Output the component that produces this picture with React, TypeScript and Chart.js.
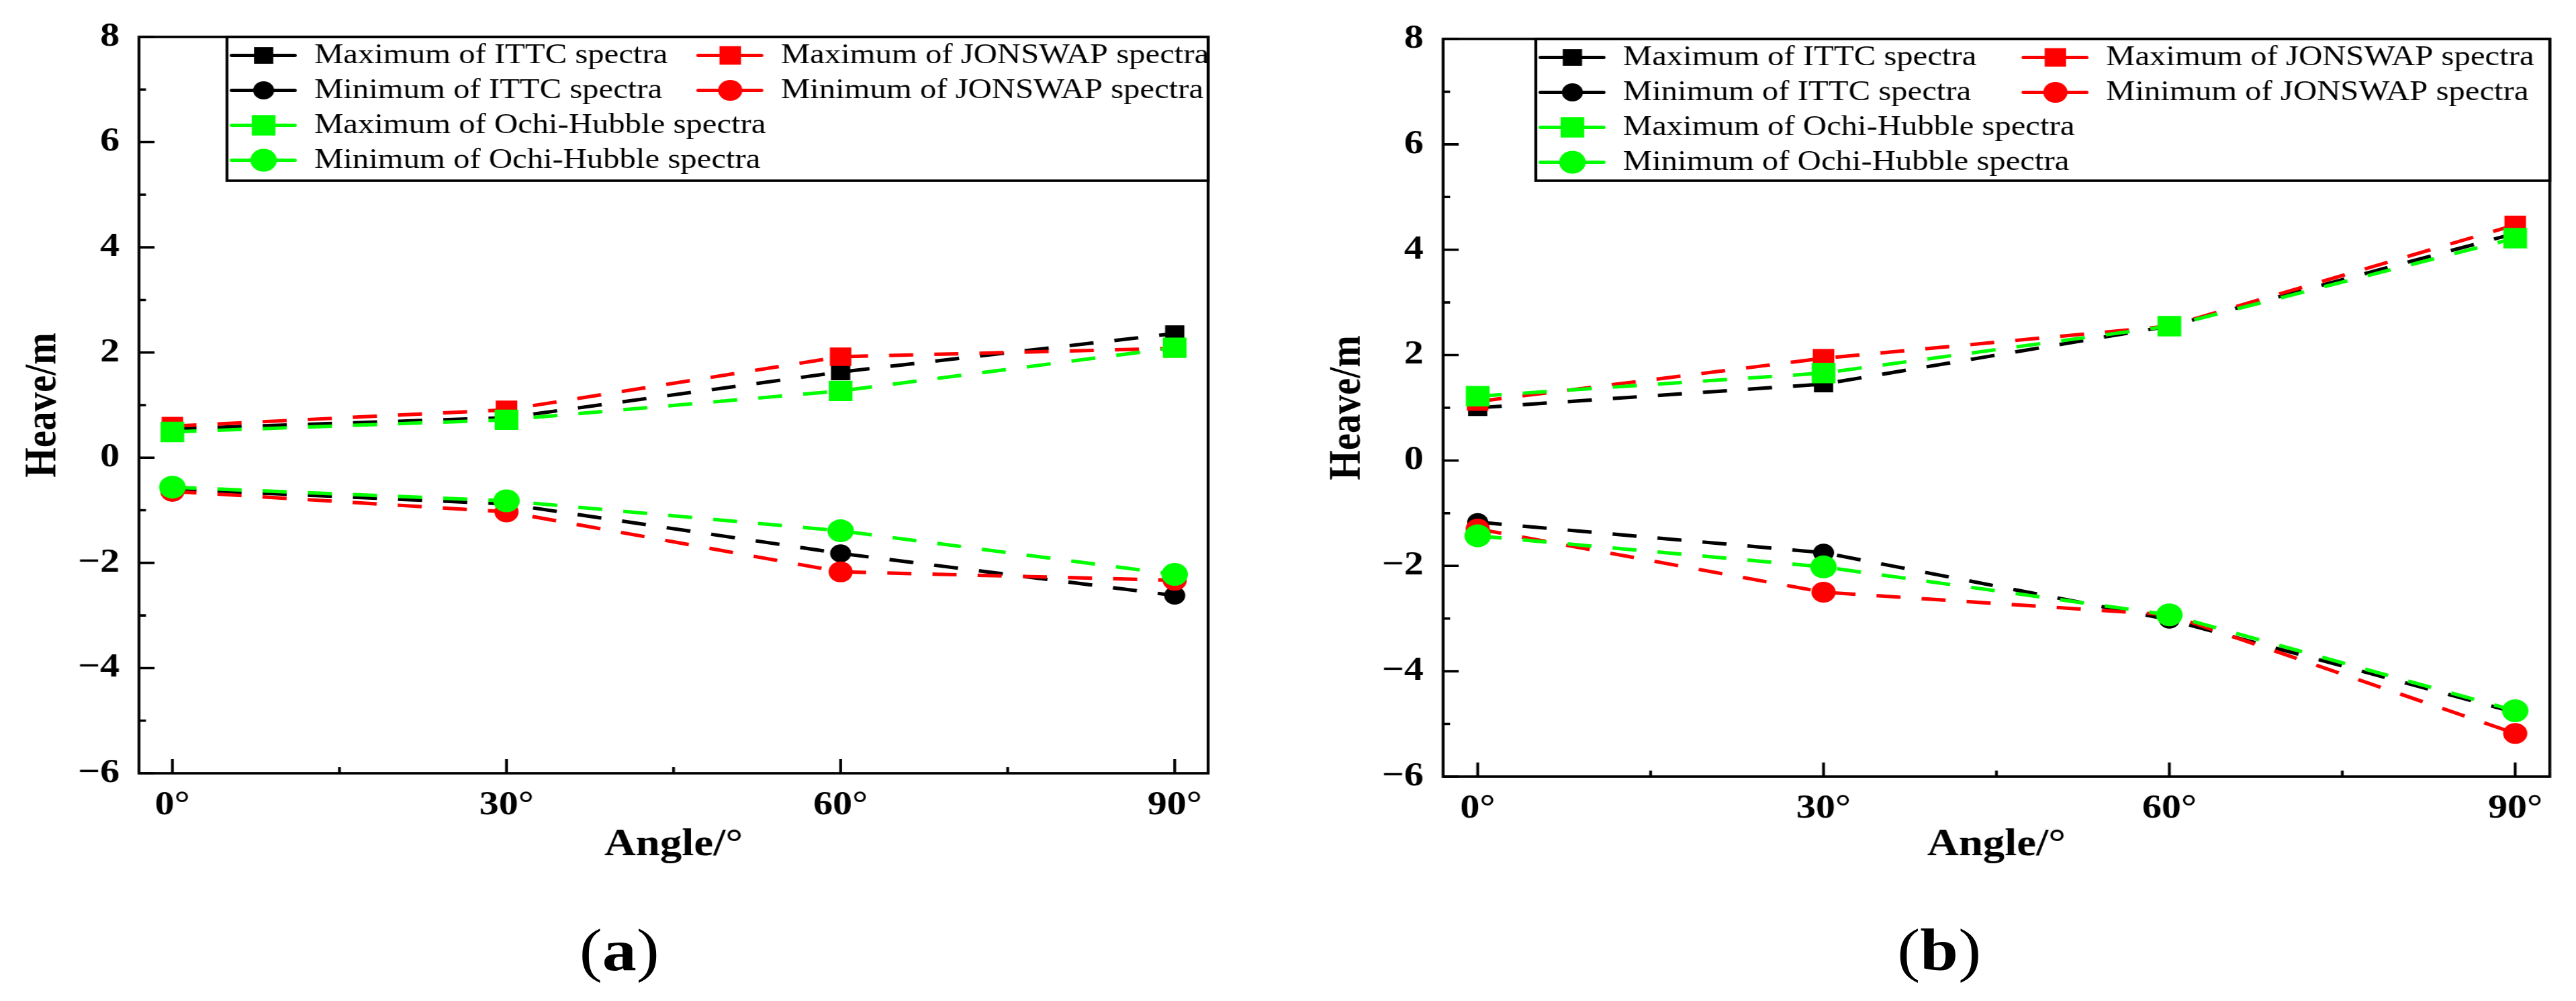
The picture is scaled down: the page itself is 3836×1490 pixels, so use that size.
import { useEffect, useRef } from "react"
import { Chart, registerables } from "chart.js"

Chart.register(...registerables)

// the published figure is stretched sideways, so each panel is drawn narrower and scaled in x
const STRETCH = 1.16
const FONT = "'Liberation Serif', 'Times New Roman', serif"
const CANVAS_W = 1653
const CANVAS_H = 1320
const Y_AXIS_W = 178

const angles = [0, 30, 60, 90]
const xTickValues = [0, 15, 30, 45, 60, 75, 90]
const xLabelValues = [0, 30, 60, 90]
const yTickValues = [-6, -5, -4, -3, -2, -1, 0, 1, 2, 3, 4, 5, 6, 7, 8]
const yLabelValues = [-6, -4, -2, 0, 2, 4, 6, 8]

const seriesNames = [
  "Maximum of ITTC spectra",
  "Minimum of ITTC spectra",
  "Maximum of Ochi-Hubble spectra",
  "Minimum of Ochi-Hubble spectra",
  "Maximum of JONSWAP spectra",
  "Minimum of JONSWAP spectra",
]

// (a)
const maxIttcA = [0.55, 0.76, 1.63, 2.36]
const minIttcA = [-0.6, -0.88, -1.82, -2.62]
const maxOchiA = [0.49, 0.72, 1.27, 2.09]
const minOchiA = [-0.56, -0.82, -1.39, -2.22]
const maxJonswapA = [0.6, 0.91, 1.92, 2.08]
const minJonswapA = [-0.64, -1.03, -2.17, -2.33]

// (b)
const maxIttcB = [1.0, 1.45, 2.55, 4.31]
const minIttcB = [-1.17, -1.75, -3.02, -4.78]
const maxOchiB = [1.22, 1.66, 2.55, 4.22]
const minOchiB = [-1.43, -2.02, -2.93, -4.75]
const maxJonswapB = [1.12, 1.94, 2.55, 4.47]
const minJonswapB = [-1.3, -2.5, -2.93, -5.18]

const seriesStyles = [
  { color: "#000000", point: "rect", radius: 17.5, order: 2 },
  { color: "#000000", point: "circle", radius: 13.5, order: 2 },
  { color: "#00ff00", point: "rect", radius: 21.5, order: 0 },
  { color: "#00ff00", point: "circle", radius: 17, order: 0 },
  { color: "#ff0000", point: "rect", radius: 19.5, order: 1 },
  { color: "#ff0000", point: "circle", radius: 15.5, order: 1 },
]

type PanelSpec = {
  letter: string
  pageX: number
  plotLeft: number
  plotRight: number
  plotTop: number
  plotBottom: number
  legendLeft: number
  legendHeight: number
  legendCol2: number
  captionX: number
  series: number[][]
}

const panels: PanelSpec[] = [
  {
    letter: "a",
    pageX: 0,
    plotLeft: 178.4,
    plotRight: 1550.9,
    plotTop: 41,
    plotBottom: 1151,
    legendLeft: 291.4,
    legendHeight: 214,
    legendCol2: 599,
    captionX: 795,
    series: [maxIttcA, minIttcA, maxOchiA, minOchiA, maxJonswapA, minJonswapA],
  },
  {
    letter: "b",
    pageX: 1918,
    plotLeft: 199.1,
    plotRight: 1619.8,
    plotTop: 58,
    plotBottom: 1156,
    legendLeft: 318.1,
    legendHeight: 211,
    legendCol2: 620,
    captionX: 836,
    series: [maxIttcB, minIttcB, maxOchiB, minOchiB, maxJonswapB, minJonswapB],
  },
]

// inward ticks, closed frame and the boxed two-column legend
const framePlugin = {
  id: "heaveFrame",
  afterDatasetsDraw(chart: any, _args: unknown, opts: any) {
    const { ctx, chartArea: area } = chart
    const xs = chart.scales.x
    const ys = chart.scales.y
    ctx.save()
    ctx.strokeStyle = "#000"
    ctx.lineWidth = 3.6
    ctx.lineCap = "butt"
    ctx.beginPath()
    xs.ticks.forEach((t: any) => {
      const px = xs.getPixelForValue(t.value)
      const len = xLabelValues.includes(t.value) ? 21 : 9
      ctx.moveTo(px, area.bottom)
      ctx.lineTo(px, area.bottom - len)
    })
    ys.ticks.forEach((t: any) => {
      const py = ys.getPixelForValue(t.value)
      const len = yLabelValues.includes(t.value) ? 20 : 9
      ctx.moveTo(area.left, py)
      ctx.lineTo(area.left + len, py)
    })
    ctx.stroke()
    ctx.lineWidth = 3.7
    ctx.strokeRect(area.left, area.top, area.right - area.left, area.bottom - area.top)

    const boxLeft = opts.left
    const boxTop = area.top
    ctx.strokeRect(boxLeft, boxTop, area.right - boxLeft, opts.height)
    ctx.font = `42px ${FONT}`
    ctx.textBaseline = "middle"
    ctx.textAlign = "left"
    chart.data.datasets.forEach((ds: any, i: number) => {
      const col = Math.floor(i / 4)
      const row = i % 4
      const ox = boxLeft + col * opts.col2
      const oy = boxTop + 27.5 + row * 52
      ctx.strokeStyle = ds.borderColor
      ctx.lineWidth = 5
      ctx.lineCap = "round"
      ctx.beginPath()
      ctx.moveTo(ox + 6, oy)
      ctx.lineTo(ox + 87, oy)
      ctx.stroke()
      ctx.fillStyle = ds.pointBackgroundColor
      const r = ds.pointRadius
      if (ds.pointStyle === "rect") {
        const h = r * Math.SQRT1_2
        ctx.fillRect(ox + 47 - h, oy - h, 2 * h, 2 * h)
      } else {
        ctx.beginPath()
        ctx.arc(ox + 47, oy, r, 0, Math.PI * 2)
        ctx.fill()
      }
      ctx.fillStyle = "#000"
      ctx.fillText(ds.label, ox + 112, oy)
    })
    ctx.restore()
  },
}

function HeavePanel({ spec }: { spec: PanelSpec }) {
  const chartRef = useRef<HTMLCanvasElement>(null)
  const chartInstance = useRef<Chart | null>(null)

  useEffect(() => {
    if (!chartRef.current) return
    const ctx = chartRef.current.getContext("2d")
    if (!ctx) return

    if (chartInstance.current) {
      chartInstance.current.destroy()
    }

    const datasets = spec.series.map((values, i) => {
      const s = seriesStyles[i]
      return {
        label: seriesNames[i],
        data: values.map((v, j) => ({ x: angles[j], y: v })),
        borderColor: s.color,
        backgroundColor: s.color,
        pointBackgroundColor: s.color,
        pointBorderWidth: 0,
        pointStyle: s.point,
        pointRadius: s.radius,
        borderWidth: 5.2,
        borderDash: [31, 27],
        tension: 0,
        fill: false,
        order: s.order,
      }
    })

    chartInstance.current = new Chart(ctx, {
      type: "line",
      data: { datasets } as any,
      options: {
        responsive: false,
        animation: false,
        devicePixelRatio: 1,
        layout: {
          padding: {
            left: spec.plotLeft - Y_AXIS_W,
            right: CANVAS_W - spec.plotRight,
            top: spec.plotTop,
            bottom: 0,
          },
        },
        plugins: {
          legend: { display: false },
          tooltip: { enabled: false },
          heaveFrame: { left: spec.legendLeft, height: spec.legendHeight, col2: spec.legendCol2 },
        } as any,
        scales: {
          x: {
            type: "linear",
            min: -3,
            max: 93,
            grid: { display: false, drawTicks: false },
            border: { display: false },
            afterBuildTicks: (scale: any) => {
              scale.ticks = xTickValues.map((value) => ({ value }))
            },
            afterFit: (scale: any) => {
              scale.height = CANVAS_H - spec.plotBottom
            },
            ticks: {
              autoSkip: false,
              maxRotation: 0,
              padding: 18,
              color: "#000",
              font: { family: FONT, size: 50, weight: "bold" },
              callback: (value: any) => (xLabelValues.includes(Number(value)) ? `${value}°` : ""),
            },
            title: {
              display: true,
              text: "Angle/°",
              color: "#000",
              font: { family: FONT, size: 56, weight: "bold" },
              padding: { top: 0, bottom: 28 },
            },
          },
          y: {
            type: "linear",
            min: -6,
            max: 8,
            grid: { display: false, drawTicks: false },
            border: { display: false },
            afterBuildTicks: (scale: any) => {
              scale.ticks = yTickValues.map((value) => ({ value }))
            },
            afterFit: (scale: any) => {
              scale.width = Y_AXIS_W
            },
            ticks: {
              autoSkip: false,
              padding: 25,
              color: "#000",
              font: { family: FONT, size: 50, weight: "bold" },
              callback: (value: any) => {
                const v = Number(value)
                if (!yLabelValues.includes(v)) return ""
                return v < 0 ? `\u2212${Math.abs(v)}` : String(v)
              },
            },
            title: {
              display: true,
              text: "Heave/m",
              color: "#000",
              font: { family: FONT, size: 57, weight: "bold" },
              padding: { top: 22, bottom: 0 },
            },
          },
        },
      },
      plugins: [framePlugin],
    })

    return () => {
      if (chartInstance.current) {
        chartInstance.current.destroy()
        chartInstance.current = null
      }
    }
  }, [spec])

  return (
    <div
      style={{
        position: "absolute",
        left: spec.pageX,
        top: 0,
        width: CANVAS_W,
        height: 1490,
        transform: `scaleX(${STRETCH})`,
        transformOrigin: "0 0",
      }}
    >
      <canvas
        ref={chartRef}
        width={CANVAS_W}
        height={CANVAS_H}
        style={{ width: CANVAS_W, height: CANVAS_H, display: "block" }}
      ></canvas>
      <div
        style={{
          position: "absolute",
          left: spec.captionX,
          top: 1371,
          transform: "translateX(-50%)",
          fontFamily: FONT,
          fontSize: 88,
          lineHeight: "88px",
          color: "#000",
          whiteSpace: "nowrap",
        }}
      >
        (<b>{spec.letter}</b>)
      </div>
    </div>
  )
}

export default function App() {
  return (
    <div
      style={{
        position: "fixed",
        left: 0,
        top: 0,
        width: 3836,
        height: 1490,
        background: "#ffffff",
        overflow: "hidden",
      }}
    >
      {panels.map((p) => (
        <HeavePanel key={p.letter} spec={p} />
      ))}
    </div>
  )
}
